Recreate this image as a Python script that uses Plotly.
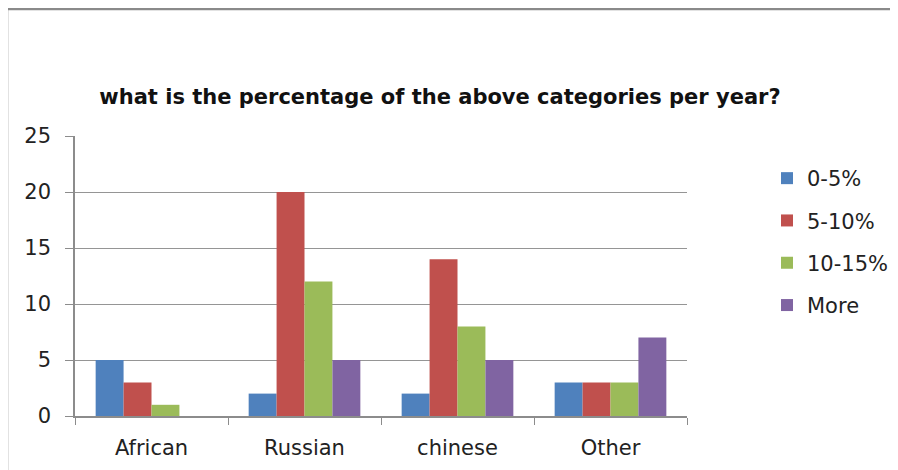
import plotly.graph_objects as go

categories = ["African", "Russian", "chinese", "Other"]
series_names = ["0-5%", "5-10%", "10-15%", "More"]
v_0_5 = [5, 2, 2, 3]
v_5_10 = [3, 20, 14, 3]
v_10_15 = [1, 12, 8, 3]
v_more = [0, 5, 5, 7]
colors = ["#4F81BD", "#C0504D", "#9BBB59", "#8064A2"]
y_ticks = [0, 5, 10, 15, 20, 25]

FONT = "DejaVu Sans"
fig = go.Figure()
for name, vals, c in zip(series_names, [v_0_5, v_5_10, v_10_15, v_more], colors):
    fig.add_trace(go.Bar(x=categories, y=vals, name=name, marker=dict(color=c, line=dict(width=0)),
                         legendgroup=name))

# the page puts the figure at (8, 8); work in page pixels and subtract 8
OFF = 8
W, H = 890, 462
L, R, T, B = 75 - OFF, 211, 136 - OFF, 54
pw, ph = W - L - R, H - T - B

def px_x(x):
    return (x - OFF - L) / pw

def px_y(y):
    return (H - B - (y - OFF)) / ph

fig.update_layout(
    width=W, height=H,
    margin=dict(l=L, r=R, t=T, b=B, pad=0, autoexpand=False),
    paper_bgcolor="white", plot_bgcolor="white",
    barmode="group", bargap=0.27, bargroupgap=0,
    title=dict(text="<b>what is the percentage of the above categories per year?</b>",
               x=px_x(440), xref="paper", xanchor="center",
               y=(H - (97 - OFF)) / H, yanchor="middle",
               font=dict(family=FONT, size=21, color="#111")),
    font=dict(family=FONT, size=21, color="#222"),
    legend=dict(x=px_x(767), xref="paper", y=px_y(158), yanchor="top", xanchor="left",
                font=dict(family=FONT, size=21, color="#222"),
                tracegroupgap=12, itemwidth=30, bgcolor="rgba(0,0,0,0)"),
    showlegend=True,
)
fig.update_xaxes(type="category", tickson="boundaries", ticks="outside", ticklen=7,
                 tickcolor="#8c8c8c", showline=True, linecolor="#8c8c8c", linewidth=1.5,
                 showgrid=False, ticklabelstandoff=12,
                 tickfont=dict(family=FONT, size=21, color="#222"))
fig.update_yaxes(range=[0, 25], tickvals=y_ticks, ticks="outside", ticklen=8, tickcolor="#8c8c8c",
                 showline=True, linecolor="#8c8c8c", linewidth=1.5, showgrid=True,
                 gridcolor="#959595", gridwidth=1.2, zeroline=False, ticklabelstandoff=10,
                 tickfont=dict(family=FONT, size=21, color="#222"))

# chart border (left and top)
fig.add_shape(type="line", xref="paper", yref="paper", x0=px_x(7), x1=px_x(910),
              y0=px_y(9), y1=px_y(9), line=dict(color="#8a8a8a", width=2.5))
fig.add_shape(type="line", xref="paper", yref="paper", x0=px_x(7), x1=px_x(7),
              y0=px_y(9), y1=px_y(480), line=dict(color="#8a8a8a", width=2.5))

fig.write_html("out.html")
